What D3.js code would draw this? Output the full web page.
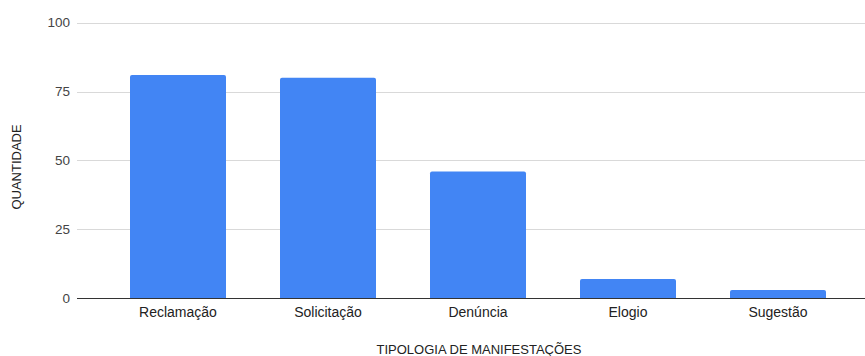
<!DOCTYPE html>
<html><head><meta charset="utf-8">
<script src="https://cdn.jsdelivr.net/npm/d3@7"></script>
<style>body{margin:0;background:#fff}svg{display:block}text{font-family:"Liberation Sans",Arial,sans-serif}</style>
</head><body>
<svg id="c" width="865" height="356"></svg>
<script>
const categories = ["Reclamação","Solicitação","Denúncia","Elogio","Sugestão"];
const values = [81, 80, 46, 7, 3];
const yTicks = [0, 25, 50, 75, 100];
const xTitle = "TIPOLOGIA DE MANIFESTAÇÕES";
const yTitle = "QUANTIDADE";

const svg = d3.select("#c");
const x = d3.scaleBand().domain(categories).range([103, 853]).paddingInner(0.36).paddingOuter(0.18);
const y = d3.scaleLinear().domain([0, 100]).range([298.3, 22.6]);

// gridlines
svg.append("g").selectAll("line").data(yTicks.filter(d => d > 0)).join("line")
  .attr("x1", 77).attr("x2", 865)
  .attr("y1", d => Math.round(y(d)) + 0.5).attr("y2", d => Math.round(y(d)) + 0.5)
  .attr("stroke", "#d9d9d9").attr("stroke-width", 1);

// y tick labels
svg.append("g").selectAll("text").data(yTicks).join("text")
  .attr("x", 70).attr("y", d => y(d)).attr("dy", "0.35em")
  .attr("text-anchor", "end").attr("font-size", 13.5).attr("fill", "#444")
  .text(d => d);

// bars with rounded top corners
const r = 2;
svg.append("g").selectAll("path").data(categories).join("path")
  .attr("fill", "#4285f4")
  .attr("d", (c, i) => {
    const x0 = x(c), w = x.bandwidth(), y0 = y(values[i]), yb = y(0);
    return `M${x0},${yb}V${y0 + r}Q${x0},${y0} ${x0 + r},${y0}H${x0 + w - r}Q${x0 + w},${y0} ${x0 + w},${y0 + r}V${yb}Z`;
  });

// zero line
svg.append("line").attr("x1", 77).attr("x2", 865)
  .attr("y1", Math.round(y(0)) + 0.5).attr("y2", Math.round(y(0)) + 0.5)
  .attr("stroke", "#333").attr("stroke-width", 1);

// x labels
svg.append("g").selectAll("text").data(categories).join("text")
  .attr("x", c => x(c) + x.bandwidth() / 2).attr("y", 317)
  .attr("text-anchor", "middle").attr("font-size", 14).attr("fill", "#222")
  .text(c => c);

// axis titles
svg.append("text").attr("x", 479).attr("y", 354).attr("text-anchor", "middle")
  .attr("font-size", 13).attr("fill", "#222").text(xTitle);
svg.append("text").attr("transform", "translate(21,167) rotate(-90)")
  .attr("text-anchor", "middle").attr("font-size", 13).attr("fill", "#222").text(yTitle);
</script>
</body></html>
